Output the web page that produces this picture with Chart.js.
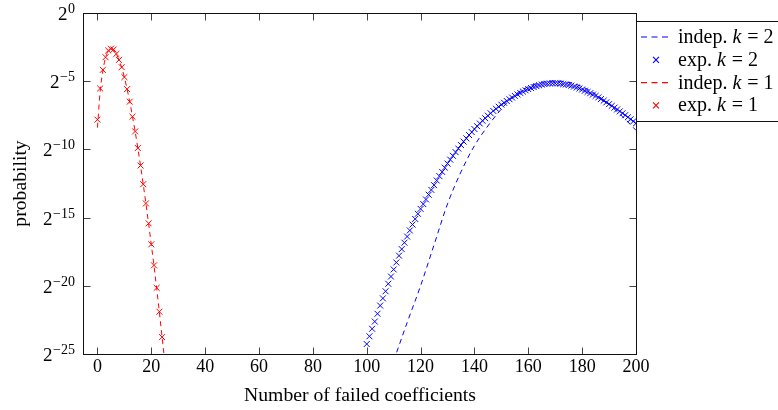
<!DOCTYPE html>
<html>
<head>
<meta charset="utf-8">
<script src="https://cdn.jsdelivr.net/npm/chart.js@4"></script>
<style>
  html, body { margin: 0; padding: 0; background: #fff; }
  canvas { display: block; }
</style>
</head>
<body>
<canvas id="failChart" width="778" height="410"></canvas>
<script>
// values are log2(probability)
const xTicks = [0, 20, 40, 60, 80, 100, 120, 140, 160, 180, 200];
const yTicks = [-25, -20, -15, -10, -5, 0];

const k1ExpX = [0, 1, 2, 3, 4, 5, 6, 7, 8, 9, 10, 11, 12, 13, 14, 15, 16, 17, 18, 19, 20, 21, 22, 23, 24];
const k1Exp = [-7.82, -5.53, -4.17, -3.24, -2.75, -2.62, -2.68, -3.0, -3.44, -3.97, -4.7, -5.58, -6.5,
  -7.6, -8.68, -9.9, -11.18, -12.55, -13.96, -15.42, -16.96, -18.5, -20.15, -21.9, -23.76];

const k1IndepX = [0, 1, 2, 3, 4, 5, 6, 7, 8, 9, 10, 11, 12, 13, 14, 15, 16, 17, 18, 19, 20, 21, 22, 23, 24, 25];
const k1Indep = [-8.4, -5.75, -4.25, -3.28, -2.8, -2.66, -2.72, -3.02, -3.46, -4.0, -4.72, -5.58, -6.52,
  -7.58, -8.7, -9.92, -11.2, -12.56, -13.98, -15.45, -16.98, -18.55, -20.2, -21.95, -23.75, -25.6];

const k2ExpStart = 100;
const k2Exp = [
  -24.27, -23.70, -23.15, -22.62, -22.05, -21.45, -20.92, -20.40, -19.85, -19.32,
  -18.80, -18.29, -17.79, -17.31, -16.84, -16.39, -15.94, -15.51, -15.10, -14.72,
  -14.36, -14.01, -13.67, -13.32, -12.97, -12.62, -12.28, -11.96, -11.65, -11.34,
  -11.04, -10.75, -10.47, -10.20, -9.94, -9.68, -9.43, -9.19, -8.95, -8.73,
  -8.51, -8.30, -8.10, -7.90, -7.71, -7.53, -7.35, -7.18, -7.02, -6.87,
  -6.72, -6.58, -6.45, -6.32, -6.20, -6.08, -5.97, -5.86, -5.76, -5.67,
  -5.58, -5.50, -5.43, -5.36, -5.30, -5.25, -5.21, -5.18, -5.16, -5.15,
  -5.15, -5.16, -5.18, -5.21, -5.24, -5.28, -5.33, -5.39, -5.46, -5.53,
  -5.61, -5.70, -5.79, -5.88, -5.98, -6.08, -6.19, -6.31, -6.43, -6.55,
  -6.68, -6.81, -6.94, -7.07, -7.21, -7.35, -7.49, -7.64, -7.79, -7.94,
  -8.09
];

const k2IndepX = [110, 115, 120, 125, 130, 135, 140, 145, 150, 155, 160, 165, 170, 175, 180, 185, 190, 195, 200];
const k2Indep = [-25.5, -22.7, -20.0, -17.0, -14.0, -11.65, -9.73, -8.28, -7.04, -6.0,
  -5.4, -5.08, -4.98, -5.08, -5.4, -5.95, -6.7, -7.6, -8.6];

const pts = (xs, ys) => ys.map((y, i) => ({ x: xs[i], y: y }));
const k2ExpX = k2Exp.map((_, i) => k2ExpStart + i);

const blue = '#0000ff';
const red = '#ff0000';
const dash = [5, 4];

const serif = '"Liberation Serif", "Times New Roman", serif';
Chart.defaults.font.family = serif;
Chart.defaults.color = '#000';

const crossR = 4.2;

// legend rows: colour, dashed line or cross marker
const legendRows = [
  { color: blue, line: true },
  { color: blue, line: false },
  { color: red, line: true },
  { color: red, line: false }
];

// frame, inward ticks, 2^n labels and the legend box
const framePlugin = {
  id: 'frame',
  afterDraw(chart) {
    const ctx = chart.ctx;
    const a = chart.chartArea;
    const xs = chart.scales.x, ys = chart.scales.y;
    const L = a.left - 0.5, R = a.right + 0.5, T = a.top + 0.5, B = a.bottom + 0.5;
    ctx.save();
    ctx.strokeStyle = '#444';
    ctx.lineWidth = 1;
    ctx.beginPath();
    xs.ticks.forEach(t => {
      const px = Math.round(xs.getPixelForValue(t.value)) + 0.5;
      ctx.moveTo(px, B); ctx.lineTo(px, B - 7);
      ctx.moveTo(px, T); ctx.lineTo(px, T + 7);
    });
    ys.ticks.forEach(t => {
      const py = Math.round(ys.getPixelForValue(t.value)) + 0.5;
      ctx.moveTo(L, py); ctx.lineTo(L + 7, py);
      ctx.moveTo(R, py); ctx.lineTo(R - 7, py);
    });
    ctx.stroke();
    ctx.strokeStyle = '#111';
    ctx.strokeRect(L, T, R - L, B - T);

    // y tick labels 2^n
    ctx.fillStyle = '#000';
    ctx.textBaseline = 'alphabetic';
    ctx.textAlign = 'left';
    const rightEdge = 75;
    ys.ticks.forEach(t => {
      const py = ys.getPixelForValue(t.value);
      const exp = t.value === 0 ? '0' : '\u2212' + Math.abs(t.value);
      ctx.font = '14px ' + serif;
      const wExp = ctx.measureText(exp).width;
      ctx.font = '19px ' + serif;
      const wBase = ctx.measureText('2').width;
      ctx.fillText('2', rightEdge - wExp - wBase - 0.5, py + 7);
      ctx.font = '14px ' + serif;
      ctx.fillText(exp, rightEdge - wExp, py);
    });

    // legend
    const lx = 636.5, ly = 21.5, lh = 100;
    ctx.fillStyle = '#fff';
    ctx.fillRect(lx, ly, 200, lh);
    ctx.strokeStyle = '#111';
    ctx.lineWidth = 1;
    ctx.strokeRect(lx, ly, 200, lh);
    chart.data.datasets.forEach((ds, i) => {
      const row = legendRows[i];
      const cy = 37 + i * 22.8;
      ctx.strokeStyle = row.color;
      ctx.lineWidth = 1.1;
      ctx.beginPath();
      if (row.line) {
        ctx.setLineDash([6, 4.5]);
        ctx.moveTo(641, cy);
        ctx.lineTo(670, cy);
        ctx.stroke();
        ctx.setLineDash([]);
      } else {
        const d = crossR * Math.SQRT1_2;
        const cx = 656;
        ctx.moveTo(cx - d, cy - d); ctx.lineTo(cx + d, cy + d);
        ctx.moveTo(cx - d, cy + d); ctx.lineTo(cx + d, cy - d);
        ctx.stroke();
      }
      // label text with italic k
      const parts = ds.label.split('k');
      let tx = 678;
      ctx.fillStyle = '#000';
      ctx.font = '20px ' + serif;
      ctx.fillText(parts[0], tx, cy + 6);
      tx += ctx.measureText(parts[0]).width;
      ctx.font = 'italic 20px ' + serif;
      ctx.fillText('k', tx, cy + 6);
      tx += ctx.measureText('k').width + 1;
      ctx.font = '20px ' + serif;
      ctx.fillText(parts[1], tx, cy + 6);
    });
    ctx.restore();
  }
};

const ctx = document.getElementById('failChart').getContext('2d');

new Chart(ctx, {
  type: 'line',
  data: {
    datasets: [
      {
        label: 'indep. k = 2',
        data: pts(k2IndepX, k2Indep),
        borderColor: blue,
        borderWidth: 1,
        borderDash: dash,
        pointRadius: 0,
        showLine: true,
        cubicInterpolationMode: 'monotone',
        order: 2
      },
      {
        label: 'exp. k = 2',
        data: pts(k2ExpX, k2Exp),
        borderColor: blue,
        backgroundColor: blue,
        pointStyle: 'crossRot',
        pointRadius: crossR,
        pointBorderWidth: 1,
        showLine: false,
        order: 1
      },
      {
        label: 'indep. k = 1',
        data: pts(k1IndepX, k1Indep),
        borderColor: red,
        borderWidth: 1,
        borderDash: dash,
        pointRadius: 0,
        showLine: true,
        cubicInterpolationMode: 'monotone',
        order: 2
      },
      {
        label: 'exp. k = 1',
        data: pts(k1ExpX, k1Exp),
        borderColor: red,
        backgroundColor: red,
        pointStyle: 'crossRot',
        pointRadius: crossR,
        pointBorderWidth: 1,
        showLine: false,
        order: 1
      }
    ]
  },
  options: {
    responsive: false,
    animation: false,
    layout: { padding: { left: 0, top: 13, right: 142, bottom: 0 } },
    plugins: {
      legend: { display: false },
      tooltip: { enabled: false }
    },
    scales: {
      x: {
        type: 'linear',
        min: -5,
        max: 200,
        afterBuildTicks: s => { s.ticks = xTicks.map(v => ({ value: v })); },
        afterFit: s => { s.height = 56; },
        grid: { display: false, drawTicks: false },
        border: { display: false },
        ticks: { padding: 2, font: { size: 18 }, color: '#000', maxRotation: 0, autoSkip: false },
        title: {
          display: true,
          text: 'Number of failed coefficients',
          font: { size: 19.7 },
          color: '#000',
          padding: { top: 0, bottom: 2 }
        }
      },
      y: {
        type: 'linear',
        min: -25,
        max: 0,
        afterBuildTicks: s => { s.ticks = yTicks.map(v => ({ value: v })); },
        afterFit: s => { s.width = 84; },
        grid: { display: false, drawTicks: false },
        border: { display: false },
        ticks: { display: false },
        title: {
          display: true,
          text: 'probability',
          font: { size: 19.7 },
          color: '#000',
          padding: { top: 9, bottom: 0 }
        }
      }
    }
  },
  plugins: [framePlugin]
});
</script>
</body>
</html>
